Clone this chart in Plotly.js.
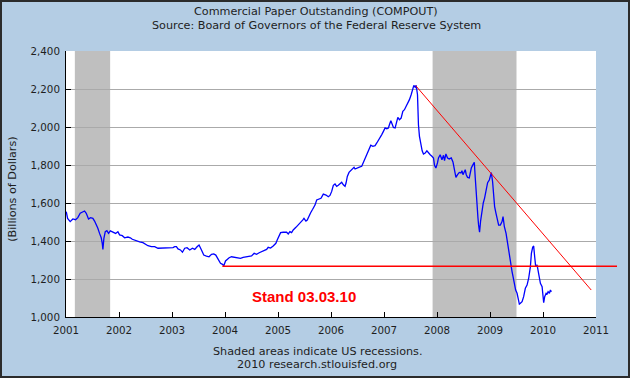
<!DOCTYPE html>
<html>
<head>
<meta charset="utf-8">
<script src="https://cdn.plot.ly/plotly-3.0.1.min.js"></script>
<style>
  html, body { margin: 0; padding: 0; background: #b4cde4; }
  #wrap { position: relative; width: 630px; height: 378px; }
  #chart { width: 630px; height: 378px; }
  #frame { position: absolute; left: 0; top: 0; width: 630px; height: 378px; box-sizing: border-box; border: 2px solid #2b2b2b; pointer-events: none; }
</style>
</head>
<body>
<div id="wrap"><div id="chart"></div><div id="frame"></div></div>
<script>
const weekYears = [
  2001.005, 2001.030, 2001.079, 2001.129, 2001.180, 2001.223, 2001.268, 2001.318, 2001.350, 2001.382,
  2001.425, 2001.463, 2001.507, 2001.539, 2001.571, 2001.601, 2001.633, 2001.665, 2001.684, 2001.696,
  2001.715, 2001.741, 2001.771, 2001.803, 2001.836, 2001.885, 2001.936, 2001.979, 2002.011, 2002.062,
  2002.106, 2002.168, 2002.214, 2002.251, 2002.314, 2002.389, 2002.452, 2002.503, 2002.546, 2002.611,
  2002.673, 2002.735, 2002.830, 2002.894, 2002.957, 2003.019, 2003.051, 2003.083, 2003.113, 2003.159,
  2003.197, 2003.240, 2003.284, 2003.335, 2003.386, 2003.429, 2003.473, 2003.510, 2003.556, 2003.599,
  2003.650, 2003.699, 2003.745, 2003.788, 2003.826, 2003.870, 2003.915, 2003.953, 2003.977, 2004.010,
  2004.040, 2004.078,
  2004.123, 2004.185, 2004.248, 2004.293, 2004.342, 2004.407, 2004.456, 2004.501, 2004.550, 2004.596,
  2004.645, 2004.690, 2004.739, 2004.785, 2004.815, 2004.860, 2004.909, 2004.960, 2004.985, 2005.017,
  2005.049, 2005.098, 2005.163, 2005.193, 2005.225, 2005.257, 2005.287, 2005.338, 2005.382, 2005.427,
  2005.465, 2005.490, 2005.527, 2005.552, 2005.579, 2005.616, 2005.654, 2005.698, 2005.730, 2005.773,
  2005.811, 2005.855, 2005.906, 2005.949, 2005.981,
  2006.013, 2006.044, 2006.076, 2006.108, 2006.138, 2006.170, 2006.202, 2006.233, 2006.265, 2006.284,
  2006.308, 2006.340, 2006.372, 2006.403, 2006.435, 2006.454, 2006.486, 2006.535, 2006.580, 2006.599,
  2006.624, 2006.662, 2006.694, 2006.724, 2006.751, 2006.788, 2006.832, 2006.864, 2006.894, 2006.926,
  2006.958, 2006.989, 2007.021, 2007.053, 2007.083, 2007.102, 2007.129, 2007.153, 2007.178, 2007.210,
  2007.242, 2007.261, 2007.291, 2007.323, 2007.355, 2007.386, 2007.418, 2007.450, 2007.480, 2007.512,
  2007.537, 2007.563, 2007.588, 2007.607, 2007.632, 2007.639, 2007.650, 2007.669, 2007.696, 2007.720,
  2007.745, 2007.777,
  2007.809, 2007.839, 2007.872, 2007.904, 2007.934, 2007.953, 2007.979, 2008.009, 2008.028, 2008.060,
  2008.093, 2008.123, 2008.142, 2008.168, 2008.199, 2008.231, 2008.269, 2008.301, 2008.325, 2008.357,
  2008.388, 2008.420, 2008.452, 2008.471, 2008.490, 2008.514, 2008.533, 2008.552, 2008.577, 2008.609,
  2008.628, 2008.647, 2008.679, 2008.704, 2008.722, 2008.735, 2008.754, 2008.773, 2008.784, 2008.803,
  2008.822, 2008.849, 2008.873, 2008.898, 2008.924, 2008.955, 2008.987, 2009.006, 2009.025, 2009.049,
  2009.068, 2009.087, 2009.113, 2009.132, 2009.163, 2009.195, 2009.227, 2009.246, 2009.271, 2009.303,
  2009.321, 2009.340, 2009.365, 2009.384, 2009.416, 2009.435, 2009.460, 2009.484, 2009.511, 2009.530,
  2009.554, 2009.573, 2009.605, 2009.635, 2009.667, 2009.699, 2009.730, 2009.762, 2009.781, 2009.805,
  2009.824, 2009.843, 2009.862, 2009.888, 2009.907, 2009.932, 2009.951, 2009.983, 2010.002, 2010.013,
  2010.032, 2010.059, 2010.077, 2010.096, 2010.121, 2010.140, 2010.159
];

// Commercial paper outstanding, billions of dollars
const paperOutstanding = [
  1554, 1519, 1502, 1516, 1512, 1523, 1546, 1554, 1558, 1546,
  1516, 1523, 1519, 1505, 1488, 1467, 1440, 1417, 1388, 1356,
  1414, 1449, 1454, 1440, 1453, 1446, 1440, 1449, 1432, 1428,
  1417, 1421, 1417, 1409, 1402, 1396, 1391, 1383, 1375, 1370,
  1370, 1362, 1362, 1365, 1362, 1365, 1370, 1370, 1358, 1353,
  1341, 1362, 1365, 1353, 1362, 1356, 1370, 1379, 1353, 1326,
  1321, 1317, 1330, 1332, 1326, 1305, 1283, 1277, 1270, 1295,
  1305, 1312,
  1317, 1314, 1309, 1309, 1314, 1317, 1321, 1321, 1335, 1330,
  1338, 1344, 1349, 1356, 1367, 1363, 1374, 1388, 1405, 1430,
  1444, 1446, 1446, 1437, 1449, 1444, 1458, 1472, 1484, 1496,
  1510, 1519, 1505, 1510, 1528, 1549, 1567, 1589, 1616, 1623,
  1625, 1647, 1642, 1633, 1640,
  1661, 1693, 1700, 1688, 1693, 1700, 1709, 1696, 1688, 1705,
  1740, 1761, 1770, 1784, 1788, 1779, 1784, 1789, 1793, 1805,
  1828, 1846, 1863, 1889, 1904, 1898, 1902, 1916, 1928, 1942,
  1960, 1977, 1995, 1991, 1995, 2012, 2033, 2016, 1998, 1995,
  2030, 2051, 2038, 2047, 2083, 2091, 2109, 2126, 2144, 2170,
  2196, 2219, 2209, 2219, 2170, 2091, 2012, 1951, 1907, 1875,
  1858, 1863,
  1875, 1863, 1854, 1846, 1837, 1798, 1784, 1811, 1837, 1854,
  1828, 1851, 1823, 1858, 1837, 1832, 1837, 1816, 1775, 1735,
  1749, 1761, 1758, 1770, 1749, 1767, 1775, 1749, 1735, 1732,
  1758, 1784, 1802, 1814, 1732, 1661, 1591, 1521, 1486, 1447,
  1504, 1574, 1600, 1626, 1661, 1707, 1721, 1747, 1760, 1712,
  1651, 1581, 1546, 1519, 1484, 1484, 1502, 1528, 1475, 1440,
  1405, 1370, 1326, 1274, 1239, 1212, 1168, 1142, 1125, 1098,
  1068, 1072, 1081, 1107, 1151, 1168, 1204, 1265, 1335, 1367,
  1374, 1317, 1265, 1274, 1247, 1221, 1177, 1160, 1116, 1075,
  1107, 1125, 1121, 1133, 1125, 1142, 1133
];

// US recessions (start, end) as decimal years
const recessionStarts = [2001.167, 2007.917];
const recessionEnds   = [2001.833, 2009.500];

// Axis ticks
const yearTicks = [2001, 2002, 2003, 2004, 2005, 2006, 2007, 2008, 2009, 2010, 2011];
const valueTicks = [1000, 1200, 1400, 1600, 1800, 2000, 2200, 2400];

// Hand-drawn trend annotations
const supportLevel = 1267;          // horizontal support line value
const supportStartYear = 2003.95;
const trendStart = [2007.60, 2217]; // [year, value]
const trendEnd   = [2010.91, 1142];

const M = { l: 66, r: 34, t: 51, b: 61 };
const plotW = 630 - M.l - M.r;
const textColor = '#1e1e1e';
const fontFam = '"DejaVu Sans", Verdana, sans-serif';
const labelSize = 11.2;

const trace = {
  x: weekYears,
  y: paperOutstanding,
  type: 'scatter',
  mode: 'lines',
  line: { color: '#0000ff', width: 1.3 },
  hoverinfo: 'skip'
};

const shapes = [];
for (let i = 0; i < recessionStarts.length; i++) {
  shapes.push({
    type: 'rect', xref: 'x', yref: 'paper', layer: 'between',
    x0: recessionStarts[i], x1: recessionEnds[i], y0: 0, y1: 1,
    fillcolor: '#bfbfbf', line: { width: 0 }
  });
}
shapes.push({
  type: 'line', xref: 'paper', yref: 'y', layer: 'above',
  x0: (supportStartYear - yearTicks[0]) / (yearTicks[yearTicks.length - 1] - yearTicks[0]),
  x1: (617 - M.l) / plotW,
  y0: supportLevel, y1: supportLevel,
  line: { color: '#ff0000', width: 1.5 }
});
shapes.push({
  type: 'line', xref: 'x', yref: 'y', layer: 'above',
  x0: trendStart[0], y0: trendStart[1], x1: trendEnd[0], y1: trendEnd[1],
  line: { color: '#ff0000', width: 1 }
});

const annotations = [
  { text: 'Commercial Paper Outstanding (COMPOUT)', xref: 'paper', yref: 'paper',
    x: (316 - M.l) / plotW, y: (317 - 11.7) / 266, xanchor: 'center', yanchor: 'middle',
    showarrow: false, font: { family: fontFam, size: labelSize, color: textColor } },
  { text: 'Source: Board of Governors of the Federal Reserve System', xref: 'paper', yref: 'paper',
    x: (316 - M.l) / plotW, y: (317 - 25.5) / 266, xanchor: 'center', yanchor: 'middle',
    showarrow: false, font: { family: fontFam, size: labelSize, color: textColor } },
  { text: 'Shaded areas indicate US recessions.', xref: 'paper', yref: 'paper',
    x: (317 - M.l) / plotW, y: (317 - 351.7) / 266, xanchor: 'center', yanchor: 'middle',
    showarrow: false, font: { family: fontFam, size: labelSize, color: textColor } },
  { text: '2010 research.stlouisfed.org', xref: 'paper', yref: 'paper',
    x: (317 - M.l) / plotW, y: (317 - 364.8) / 266, xanchor: 'center', yanchor: 'middle',
    showarrow: false, font: { family: fontFam, size: labelSize, color: textColor } },
  { text: '(Billions of Dollars)', xref: 'paper', yref: 'paper', textangle: -90,
    x: (12.3 - M.l) / plotW, y: (317 - 189.5) / 266, xanchor: 'center', yanchor: 'middle',
    showarrow: false, font: { family: fontFam, size: labelSize, color: textColor } },
  { text: '<b>Stand 03.03.10</b>', xref: 'x', yref: 'y', x: 2005.495, y: 1107,
    xanchor: 'center', yanchor: 'middle', showarrow: false,
    font: { family: '"Liberation Sans", Arial, sans-serif', size: 15, color: '#ff0000' } }
];

const layout = {
  width: 630, height: 378,
  margin: M,
  paper_bgcolor: '#b4cde4',
  plot_bgcolor: '#ffffff',
  showlegend: false,
  font: { family: fontFam, size: 10, color: textColor },
  xaxis: {
    type: 'linear', range: [2001, 2011], tickvals: yearTicks, ticktext: yearTicks.map(String),
    showgrid: false, zeroline: false, showline: true, linecolor: '#000', linewidth: 1,
    ticks: 'inside', ticklen: 5, tickcolor: '#000', tickwidth: 1, ticklabelstandoff: 4,
    tickfont: { family: fontFam, size: 10.3, color: textColor }
  },
  yaxis: {
    range: [1000, 2400], tickvals: valueTicks, tickformat: ',d',
    showgrid: true, gridcolor: '#aaaaaa', gridwidth: 1, zeroline: false,
    showline: true, linecolor: '#000', linewidth: 1,
    ticks: 'inside', ticklen: 5, tickcolor: '#000', tickwidth: 1, ticklabelstandoff: 3,
    tickfont: { family: fontFam, size: 10.3, color: textColor }
  },
  shapes: shapes,
  annotations: annotations
};

Plotly.newPlot('chart', [trace], layout, { staticPlot: true, displayModeBar: false });
</script>
</body>
</html>
